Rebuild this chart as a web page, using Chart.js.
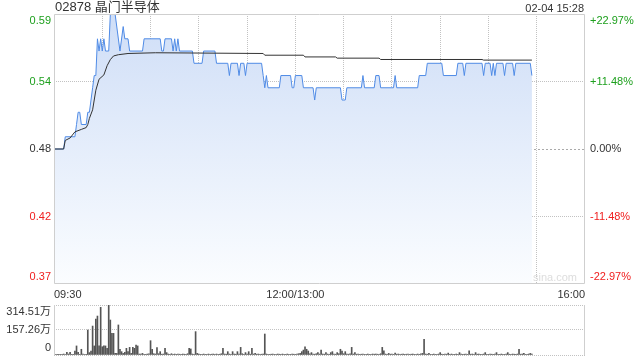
<!DOCTYPE html>
<html>
<head>
<meta charset="utf-8">
<script src="https://cdn.jsdelivr.net/npm/chart.js@4"></script>
<style>
  body { margin: 0; background: #fff; }
  #wrap { position: relative; width: 640px; height: 360px; overflow: hidden;
          font-family: 'Liberation Sans', Arial, 'Noto Sans CJK SC', sans-serif; }
  #priceChart { position: absolute; left: 0; top: 0; }
  #volChart { position: absolute; left: 0; top: 300px; }
  .txt { position: absolute; white-space: nowrap; }
  #title { left: 55px; top: 0; font-size: 13px; line-height: 14px; color: #333; }
  #stamp { right: 56px; top: 2px; font-size: 11px; line-height: 12px; color: #333; }
  #mark { left: 533px; top: 271px; font-size: 11px; line-height: 12px; color: #ddd; }
</style>
</head>
<body>
<div id="wrap">
  <canvas id="priceChart" width="640" height="300"></canvas>
  <canvas id="volChart" width="640" height="60"></canvas>
  <div class="txt" id="title">02878 晶门半导体</div>
  <div class="txt" id="stamp">02-04 15:28</div>
  <div class="txt" id="mark">sina.com</div>
</div>
<script>
// minutes since 09:30, lunch break removed (12:00/13:00 = 150, 16:00 = 330)
const timeTicks = [0, 30, 60, 90, 120, 150, 180, 210, 240, 270, 300, 330];
const timeLabels = { 0: '09:30', 150: '12:00/13:00', 330: '16:00' };

const prevClose = 0.48;
const pctTicks = [-22.97, -11.48, 0, 11.48, 22.97];
const priceTicks = pctTicks.map(p => prevClose * (1 + p / 100));

// price line (vertices)
const priceMinutes = [0, 6, 7, 13, 14, 15, 16, 17, 20, 21, 22, 23, 24, 25, 26, 27, 28, 29, 30, 31, 32, 34, 35, 38, 41, 43, 44, 46, 47, 55, 56, 66, 67, 68, 69, 73, 74, 75, 76, 77, 78, 86, 87, 92, 93, 100, 101, 108, 109, 110, 114, 115, 116, 118, 119, 120, 129, 130, 131, 132, 133, 140, 141, 147, 148, 149, 150, 154, 155, 161, 162, 163, 178, 179, 181, 182, 191, 192, 193, 199, 200, 202, 203, 211, 212, 213, 226, 227, 231, 232, 241, 242, 250, 251, 254, 255, 256, 266, 267, 268, 271, 272, 273, 274, 275, 279, 280, 281, 285, 286, 287, 296, 297];
const priceValues = [0.48, 0.48, 0.49, 0.49, 0.50, 0.51, 0.51, 0.50, 0.50, 0.51, 0.51, 0.52, 0.53, 0.54, 0.54, 0.57, 0.56, 0.57, 0.56, 0.57, 0.56, 0.56, 0.59, 0.59, 0.56, 0.58, 0.57, 0.57, 0.56, 0.56, 0.57, 0.57, 0.56, 0.56, 0.57, 0.57, 0.56, 0.57, 0.56, 0.57, 0.56, 0.56, 0.55, 0.55, 0.56, 0.56, 0.55, 0.55, 0.54, 0.55, 0.55, 0.54, 0.55, 0.55, 0.54, 0.55, 0.55, 0.54, 0.53, 0.54, 0.53, 0.53, 0.54, 0.54, 0.53, 0.53, 0.54, 0.54, 0.53, 0.53, 0.52, 0.53, 0.53, 0.52, 0.52, 0.53, 0.53, 0.54, 0.53, 0.53, 0.54, 0.54, 0.53, 0.53, 0.54, 0.53, 0.53, 0.54, 0.54, 0.55, 0.55, 0.54, 0.54, 0.55, 0.55, 0.54, 0.55, 0.55, 0.54, 0.55, 0.55, 0.54, 0.55, 0.54, 0.55, 0.55, 0.54, 0.55, 0.55, 0.54, 0.55, 0.55, 0.54];

// average price line (vertices)
const avgMinutes = [0, 6, 7, 10, 13, 17, 20, 21, 22, 24, 26, 28, 31, 33, 35, 37, 40, 46, 63, 130, 131, 155, 156, 175, 176, 202, 203, 266, 267, 297];
const avgValues = [0.48, 0.48, 0.487, 0.489, 0.494, 0.496, 0.4975, 0.50, 0.505, 0.512, 0.528, 0.537, 0.5405, 0.548, 0.553, 0.556, 0.557, 0.558, 0.5586, 0.558, 0.5566, 0.5566, 0.5552, 0.5552, 0.5542, 0.5542, 0.5531, 0.5531, 0.5526, 0.5526];

// volume per minute (万)
const volMax = 314.51;
const volTicks = [0, 157.26, 314.51];
const volumes = [
  3, 3, 4, 4, 4, 4, 6, 3, 17, 6, 17, 4, 4, 25, 57, 17, 4, 36, 6, 3,
  4, 157, 15, 25, 182, 57, 226, 245, 57, 300, 52, 57, 57, 42, 314.51, 220, 136, 136, 10, 10,
  189, 36, 21, 10, 17, 42, 21, 48, 10, 48, 42, 63, 57, 6, 6, 10, 4, 4, 6, 8,
  90, 36, 8, 6, 46, 8, 21, 5, 6, 42, 15, 6, 4, 8, 5, 6, 4, 6, 5, 4,
  6, 5, 4, 8, 42, 38, 6, 5, 147, 10, 6, 4, 5, 6, 4, 5, 6, 4, 5, 6,
  5, 6, 4, 5, 8, 42, 6, 5, 21, 6, 5, 21, 6, 5, 21, 6, 48, 8, 5, 15,
  6, 21, 5, 42, 6, 10, 5, 6, 4, 5, 6, 132, 6, 5, 4, 5, 6, 4, 5, 6,
  5, 4, 6, 5, 4, 6, 5, 4, 6, 5, 4, 6, 8, 10, 21, 31, 52, 36, 25, 8,
  15, 6, 5, 8, 15, 6, 31, 6, 5, 15, 6, 5, 15, 21, 6, 5, 15, 8, 36, 25,
  8, 21, 6, 5, 8, 48, 6, 15, 5, 6, 4, 5, 6, 4, 5, 6, 4, 5, 6, 5,
  6, 5, 4, 8, 48, 27, 6, 5, 10, 5, 6, 4, 12, 5, 6, 4, 5, 6, 4, 5,
  6, 4, 5, 6, 4, 5, 6, 4, 8, 10, 99, 6, 5, 10, 4, 5, 6, 4, 5, 6,
  15, 5, 4, 6, 5, 12, 4, 6, 5, 4, 6, 5, 15, 6, 4, 5, 6, 4, 27, 5,
  6, 4, 15, 5, 6, 4, 5, 6, 15, 5, 4, 6, 5, 4, 6, 15, 5, 4, 6, 5,
  4, 6, 15, 5, 4, 6, 5, 4, 6, 36, 5, 6, 10, 4, 5, 6, 10, 6
];

const UP = '#1ea01e';
const DOWN = '#f02020';
const TEXT = '#333';
const GRID = '#c2c2c2';

Chart.defaults.font.family = "'Liberation Sans', Arial, 'Noto Sans CJK SC', sans-serif";
Chart.defaults.font.size = 11;
Chart.defaults.color = TEXT;

// solid frame around the plot area
const frame = {
  id: 'frame',
  afterDraw(chart, args, opts) {
    const { ctx, chartArea: a } = chart;
    ctx.save();
    ctx.strokeStyle = '#cfcfcf';
    ctx.lineWidth = 1;
    ctx.beginPath();
    if (opts.full) {
      ctx.rect(a.left + 0.5, a.top + 0.5, a.right - a.left - 1, a.bottom - a.top - 1);
    } else {
      ctx.moveTo(a.left + 0.5, a.top); ctx.lineTo(a.left + 0.5, a.bottom);
      ctx.moveTo(a.right - 0.5, a.top); ctx.lineTo(a.right - 0.5, a.bottom);
    }
    ctx.stroke();
    ctx.restore();
  }
};

function priceColor(i) {
  if (pctTicks[i] > 0) return UP;
  if (pctTicks[i] < 0) return DOWN;
  return TEXT;
}

// keep first / last label inside the plot height
function edgeLabel(text, i, n) {
  if (i === n - 1) return ['', text];
  if (i === 0) return [text, ''];
  return text;
}

// edge labels must not shrink the plot area
function fixY(width) {
  return (s) => { s.width = width; s.paddingTop = 0; s.paddingBottom = 0; };
}

const priceLine = priceMinutes.map((m, i) => ({ x: m, y: priceValues[i] }));
const avgLine = avgMinutes.map((m, i) => ({ x: m, y: avgValues[i] }));

new Chart(document.getElementById('priceChart'), {
  type: 'line',
  data: {
    datasets: [
      {
        data: avgLine,
        borderColor: '#333',
        borderWidth: 1,
        pointRadius: 0,
        fill: false
      },
      {
        data: priceLine,
        borderColor: '#4f8be6',
        borderWidth: 1,
        pointRadius: 0,
        tension: 0,
        fill: 'start',
        backgroundColor: (c) => {
          const a = c.chart.chartArea;
          if (!a) return 'rgba(210,225,248,0.8)';
          const g = c.chart.ctx.createLinearGradient(0, a.top, 0, a.bottom);
          g.addColorStop(0, '#cfdef7');
          g.addColorStop(1, '#fbfdff');
          return g;
        }
      }
    ]
  },
  options: {
    responsive: false,
    animation: false,
    devicePixelRatio: 1,
    layout: { padding: { top: 14, left: 0, right: 0, bottom: 0 } },
    plugins: { legend: { display: false }, tooltip: { enabled: false }, frame: { full: true } },
    scales: {
      x: {
        type: 'linear',
        min: 0,
        max: 330,
        afterBuildTicks: (s) => { s.ticks = timeTicks.map(v => ({ value: v })); },
        afterFit: (s) => { s.height = 16; },
        ticks: {
          autoSkip: false,
          maxRotation: 0,
          align: 'inner',
          padding: 4,
          color: TEXT,
          callback: (v) => timeLabels[v] || ''
        },
        grid: {
          drawTicks: false,
          color: (c) => (c.index === 0 || c.index === timeTicks.length - 1) ? 'transparent' : GRID
        },
        border: { display: false, dash: [1, 1] }
      },
      y: {
        position: 'left',
        min: priceTicks[0],
        max: priceTicks[priceTicks.length - 1],
        afterBuildTicks: (s) => { s.ticks = priceTicks.map(v => ({ value: v })); },
        afterFit: fixY(54),
        ticks: {
          autoSkip: false,
          padding: 3,
          color: (c) => priceColor(c.index),
          callback: (v, i) => edgeLabel(v.toFixed(2), i, priceTicks.length)
        },
        grid: {
          drawTicks: false,
          color: (c) => (c.index === 0 || c.index === priceTicks.length - 1) ? 'transparent'
            : (c.index === 2 ? '#aaa' : GRID)
        },
        border: { display: false, dash: (c) => c.index === 2 ? [2, 2] : [1, 1] }
      },
      y2: {
        position: 'right',
        min: priceTicks[0],
        max: priceTicks[priceTicks.length - 1],
        afterBuildTicks: (s) => { s.ticks = priceTicks.map(v => ({ value: v })); },
        afterFit: fixY(55),
        ticks: {
          autoSkip: false,
          padding: 5,
          color: (c) => priceColor(c.index),
          callback: (v, i) => {
            const p = pctTicks[i];
            const s = (p > 0 ? '+' : '') + p.toFixed(2) + '%';
            return edgeLabel(s, i, pctTicks.length);
          }
        },
        grid: { display: false, drawTicks: false },
        border: { display: false }
      }
    }
  },
  plugins: [frame]
});

new Chart(document.getElementById('volChart'), {
  type: 'bar',
  data: {
    datasets: [{
      data: volumes.map((v, i) => ({ x: i, y: v })),
      backgroundColor: '#555',
      barThickness: 1
    }]
  },
  options: {
    responsive: false,
    animation: false,
    devicePixelRatio: 1,
    layout: { padding: { top: 5, left: 0, right: 55, bottom: 5 } },
    plugins: { legend: { display: false }, tooltip: { enabled: false }, frame: { full: false } },
    scales: {
      x: {
        type: 'linear',
        min: 0,
        max: 330,
        offset: false,
        display: false
      },
      y: {
        min: 0,
        max: volMax,
        afterBuildTicks: (s) => { s.ticks = volTicks.map(v => ({ value: v })); },
        afterFit: fixY(54),
        ticks: {
          autoSkip: false,
          padding: 3,
          color: TEXT,
          callback: (v, i) => edgeLabel(v === 0 ? '0' : v.toFixed(2) + '万', i, volTicks.length)
        },
        grid: { drawTicks: false, color: GRID },
        border: { display: false, dash: [1, 1] }
      }
    }
  },
  plugins: [frame]
});
</script>
</body>
</html>
